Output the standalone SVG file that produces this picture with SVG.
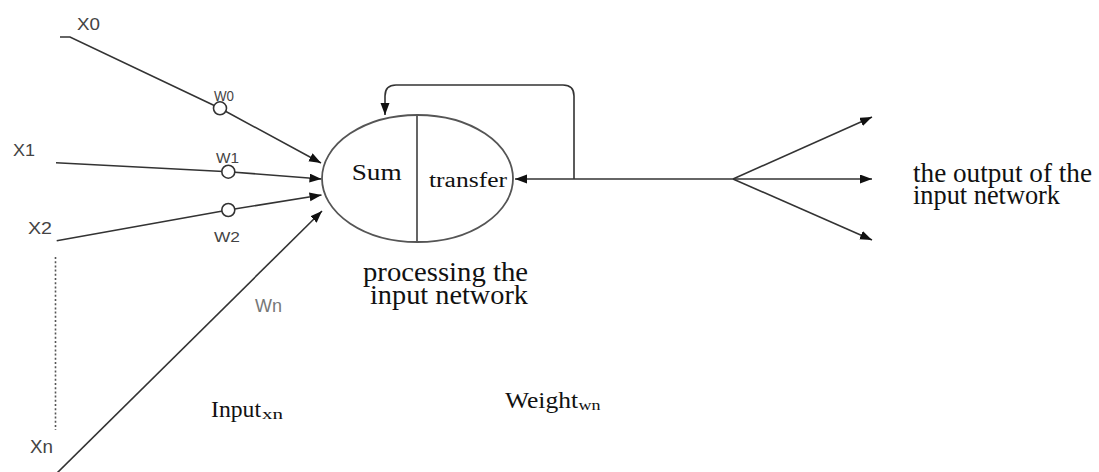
<svg xmlns="http://www.w3.org/2000/svg" width="1099" height="472" viewBox="0 0 1099 472">
  <style>
    .wire { fill: none; stroke: #333; stroke-width: 1.6; }
    .arrow { marker-end: url(#head); }
    .knot { fill: #fff; stroke: #333; stroke-width: 1.6; }
    .sans { font-family: "Liberation Sans", Arial, sans-serif; fill: #444; }
    .serif { font-family: "Liberation Serif", "Times New Roman", serif; fill: #111; }
    .faint { fill: #777; }
  </style>
  <defs>
    <marker id="head" markerUnits="userSpaceOnUse" markerWidth="13" markerHeight="10" refX="12" refY="4.5" orient="auto">
      <path d="M0,0 L12,4.5 L0,9 Z" fill="#111"/>
    </marker>
  </defs>

  <rect width="1099" height="472" fill="#fff"/>

  <!-- connectors -->
  <g id="connectors">
    <!-- inputs into the neuron -->
    <path class="wire arrow" d="M60,37 L70,37 L220,108.3 L321,163"/>
    <path class="wire arrow" d="M56,162.7 L228.3,171.7 L321.5,179"/>
    <path class="wire arrow" d="M56.7,240.7 L228.3,210 L321.5,195"/>
    <path class="wire arrow" d="M55,475 L322,211"/>
    <!-- ellipsis between X2 and Xn -->
    <line x1="55.5" y1="257" x2="55.5" y2="430" stroke="#555" stroke-width="1.6" stroke-dasharray="2 2.2"/>
    <!-- output bus and feedback loop -->
    <path class="wire arrow" d="M733,179 L515,179"/>
    <path class="wire arrow" d="M574,179 L574,96 Q574,85 563,85 L396,85 Q385,85 385,96 L385,115"/>
    <path class="wire arrow" d="M733,179 L872,117"/>
    <path class="wire arrow" d="M733,179 L872,179"/>
    <path class="wire arrow" d="M733,179 L872,240"/>
  </g>

  <!-- weight junctions -->
  <g id="w0">
    <circle class="knot" cx="220" cy="108.3" r="6.5"/>
    <text class="sans" x="214" y="100.5" font-size="15" textLength="20" lengthAdjust="spacingAndGlyphs">W0</text>
  </g>
  <g id="w1">
    <circle class="knot" cx="228.3" cy="171.7" r="6.5"/>
    <text class="sans" x="216" y="162.5" font-size="15" textLength="23" lengthAdjust="spacingAndGlyphs">W1</text>
  </g>
  <g id="w2">
    <circle class="knot" cx="228.3" cy="210" r="6.5"/>
    <text class="sans" x="214" y="241.5" font-size="15.5" textLength="26" lengthAdjust="spacingAndGlyphs">W2</text>
  </g>
  <g id="wn">
    <text class="sans faint" x="255" y="312" font-size="18" textLength="27" lengthAdjust="spacingAndGlyphs">Wn</text>
  </g>

  <!-- inputs -->
  <g id="x0"><text class="sans" x="77" y="29.5" font-size="17" textLength="23" lengthAdjust="spacingAndGlyphs">X0</text></g>
  <g id="x1"><text class="sans" x="13" y="155.5" font-size="17" textLength="22" lengthAdjust="spacingAndGlyphs">X1</text></g>
  <g id="x2"><text class="sans" x="28" y="233.5" font-size="17" textLength="24" lengthAdjust="spacingAndGlyphs">X2</text></g>
  <g id="xn"><text class="sans" x="30" y="453" font-size="18" textLength="23" lengthAdjust="spacingAndGlyphs">Xn</text></g>

  <!-- neuron: summation and transfer halves -->
  <g id="neuron">
    <ellipse cx="417.5" cy="178.5" rx="95.5" ry="63.5" fill="#fff" stroke="#555" stroke-width="1.8"/>
    <line x1="417" y1="115" x2="417" y2="242" stroke="#555" stroke-width="1.8"/>
    <text class="serif" x="351.7" y="180" font-size="23" textLength="50" lengthAdjust="spacingAndGlyphs">Sum</text>
    <text class="serif" x="429" y="186.7" font-size="20" textLength="78" lengthAdjust="spacingAndGlyphs">transfer</text>
  </g>

  <g id="processing-label">
    <text class="serif" x="363" y="281" font-size="28" textLength="165" lengthAdjust="spacingAndGlyphs">processing the</text>
    <text class="serif" x="370" y="303.5" font-size="28" textLength="158" lengthAdjust="spacingAndGlyphs">input network</text>
  </g>

  <g id="output-label">
    <text class="serif" x="913" y="182" font-size="27" textLength="179" lengthAdjust="spacingAndGlyphs">the output of the</text>
    <text class="serif" x="913" y="203.5" font-size="27" textLength="147" lengthAdjust="spacingAndGlyphs">input network</text>
  </g>

  <g id="input-caption">
    <text class="serif" x="211" y="417" font-size="23" textLength="50" lengthAdjust="spacingAndGlyphs">Input</text>
    <text class="serif" x="262" y="418.5" font-size="15" textLength="21" lengthAdjust="spacingAndGlyphs">xn</text>
  </g>

  <g id="weight-caption">
    <text class="serif" x="505" y="408" font-size="24" textLength="73" lengthAdjust="spacingAndGlyphs">Weight</text>
    <text class="serif" x="578.5" y="410" font-size="15" textLength="22" lengthAdjust="spacingAndGlyphs">wn</text>
  </g>
</svg>
